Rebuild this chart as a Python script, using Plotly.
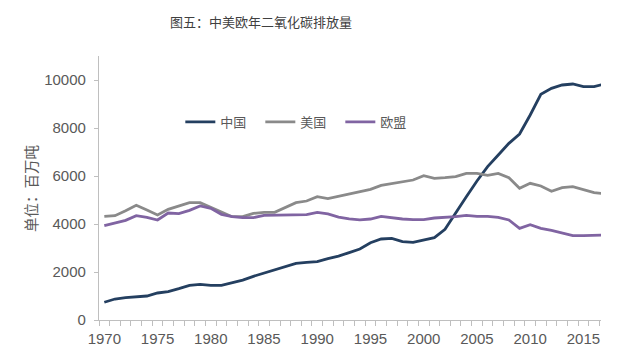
import plotly.graph_objects as go

years = list(range(1970, 2018))

china = [740, 875, 930, 960, 1000, 1125, 1180, 1305, 1445, 1485, 1445, 1445, 1555, 1665,
         1820, 1958, 2070, 2220, 2360, 2400, 2430, 2556, 2660, 2810, 2960, 3222, 3375, 3403,
         3264, 3236, 3333, 3430, 3778, 4472, 5139, 5792, 6389, 6875, 7361, 7750, 8542, 9403,
         9653, 9792, 9833, 9722, 9722, 9840]

usa = [4319, 4347, 4555, 4778, 4583, 4375, 4611, 4750, 4889, 4889, 4708, 4500, 4305, 4305,
       4444, 4486, 4486, 4680, 4889, 4958, 5139, 5055, 5160, 5260, 5350, 5444, 5611, 5694,
       5764, 5833, 6014, 5903, 5930, 5972, 6111, 6111, 6028, 6111, 5930, 5486, 5694, 5583,
       5361, 5514, 5556, 5417, 5306, 5260]

eu = [3930, 4042, 4153, 4347, 4278, 4167, 4458, 4430, 4570, 4750, 4653, 4403, 4305, 4264,
      4264, 4361, 4361, 4389, 4361, 4389, 4486, 4417, 4290, 4215, 4175, 4208, 4319, 4250,
      4208, 4181, 4181, 4250, 4264, 4306, 4361, 4319, 4319, 4278, 4167, 3819, 3972, 3819,
      3736, 3639, 3514, 3514, 3514, 3540]

series_names = ["中国", "美国", "欧盟"]
xtick_vals = list(range(1970, 2016, 5))
ytick_vals = list(range(0, 10001, 2000))

title_text = "图五：中美欧年二氧化碳排放量"
ytitle_text = "单位：百万吨"

colors = ["#243f60", "#8a8a8a", "#8064a2"]

fig = go.Figure()
for name, vals, c in zip(series_names, [china, usa, eu], colors):
    fig.add_trace(go.Scatter(x=years, y=vals, mode="lines", name=name,
                             line=dict(color=c, width=2.8)))

cjk = "Noto Sans CJK SC"
num_font = "Liberation Sans"
axis_col = "#bfbfbf"
text_col = "#595959"

fig.update_layout(
    width=641, height=362,
    margin=dict(l=99, r=40, t=56, b=42, autoexpand=False),
    paper_bgcolor="white", plot_bgcolor="white",
    showlegend=True,
    legend=dict(orientation="h", x=0.162, y=0.75, xanchor="left", yanchor="middle",
                font=dict(family=cjk, size=13, color=text_col),
                bgcolor="rgba(0,0,0,0)", itemwidth=30,
                entrywidth=35, entrywidthmode="pixels"),
    title=dict(text=title_text, x=0.407, xref="container", xanchor="center",
               y=1 - 22 / 362, yref="container", yanchor="middle",
               font=dict(family=cjk, size=13, color="#404040")),
    annotations=[dict(text=ytitle_text, textangle=-90, xref="paper", yref="paper",
                      x=(30 - 99) / 502, y=(320 - 189) / 264, xanchor="center",
                      yanchor="middle", showarrow=False,
                      font=dict(family=cjk, size=14.5, color=text_col))],
)

fig.update_xaxes(
    range=[1969.5, 2016.65], showgrid=False, zeroline=False, automargin=False,
    showline=True, linecolor=axis_col, linewidth=1.3,
    tickvals=xtick_vals, ticktext=[str(v) for v in xtick_vals],
    ticks="outside", ticklen=0, tickcolor=axis_col,
    ticklabelstandoff=5,
    tickfont=dict(family=num_font, size=15, color=text_col),
    minor=dict(ticks="outside", ticklen=5, tick0=1969.5, dtick=1, tickcolor=axis_col,
               tickwidth=1, showgrid=False),
)
fig.update_yaxes(
    range=[0, 11000], showgrid=False, zeroline=False, automargin=False,
    showline=True, linecolor=axis_col, linewidth=1.3,
    tickvals=ytick_vals, ticktext=[str(v) for v in ytick_vals],
    ticks="outside", ticklen=4, tickcolor=axis_col,
    ticklabelstandoff=5,
    tickfont=dict(family=num_font, size=15, color=text_col),
)

fig.write_html("out.html", config={"displayModeBar": False},
               post_script="document.body.style.margin='0';document.body.style.padding='0';")
